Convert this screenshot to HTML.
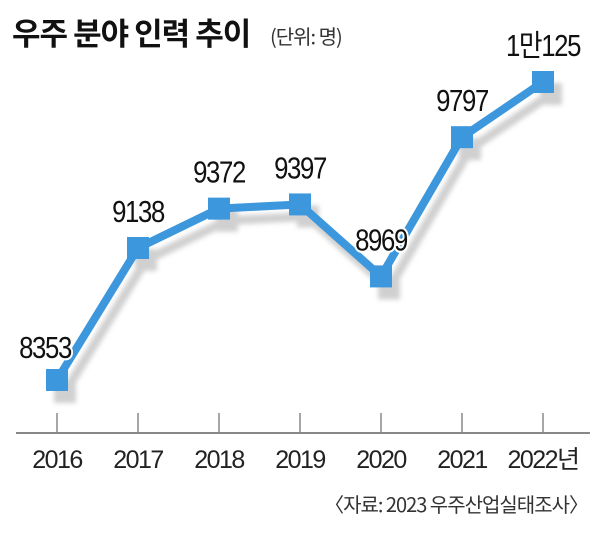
<!DOCTYPE html>
<html><head><meta charset="utf-8"><style>
body{margin:0;background:#fff;width:600px;height:533px;overflow:hidden}
svg{display:block;font-family:"Liberation Sans","Noto Sans CJK KR",sans-serif}
</style></head><body>
<svg id="chart" width="600" height="533" viewBox="0 0 600 533">
<defs><filter id="blur" x="-20%" y="-20%" width="140%" height="140%"><feGaussianBlur stdDeviation="2.5"/></filter></defs>
<text x="12" y="45" font-size="31" font-weight="bold" fill="#111" font-family="'Noto Sans CJK KR',sans-serif" letter-spacing="-1">우주 분야 인력 추이</text>
<text x="270" y="44" font-size="20" fill="#333" font-family="'Noto Sans CJK KR',sans-serif" letter-spacing="-1">(단위: 명)</text>
<line x1="16" y1="433" x2="590" y2="433" stroke="#888" stroke-width="2"/>
<g id="ticks"></g>
<g id="shadow" filter="url(#blur)"></g>
<g id="series"></g>
<g id="labels"></g>
<text x="588" y="512" text-anchor="end" font-size="20" fill="#333" font-family="'Noto Sans CJK KR',sans-serif" letter-spacing="-1">〈자료: 2023 우주산업실태조사〉</text>
</svg>
<script>
const years=["2016","2017","2018","2019","2020","2021","2022"];
const values=[8353,9138,9372,9397,8969,9797,10125];
const valueLabels=["8353","9138","9372","9397","8969","9797","1만125"];
const NS="http://www.w3.org/2000/svg";
const x=i=>57+i*81;
const y=v=>380-(v-8353)*(298/1772);
const mk=(t,a,p)=>{const e=document.createElementNS(NS,t);for(const k in a)e.setAttribute(k,a[k]);p.appendChild(e);return e;};
const ticks=document.getElementById('ticks'),sh=document.getElementById('shadow'),se=document.getElementById('series'),lb=document.getElementById('labels');
years.forEach((yr,i)=>{
 const t=mk('line',{x1:x(i),y1:413,x2:x(i),y2:433,stroke:'#888','stroke-width':1.5},ticks);
 
 
 const l=mk('text',{x:x(i),y:468,'text-anchor':'middle','font-size':25,fill:'#222','letter-spacing':'-1.5'},ticks);
 l.textContent=yr+(i===years.length-1?'년':'');
 
 
});
const pts=values.map((v,i)=>x(i)+','+y(v)).join(' ');
const spts=values.map((v,i)=>(x(i)+8)+','+(y(v)+12)).join(' ');
const shl=mk('polyline',{points:spts,fill:'none',stroke:'#d0d0d0','stroke-width':9,'stroke-linejoin':'round'},sh);


values.forEach((v,i)=>{const r=mk('rect',{x:x(i)+8-11,y:y(v)+12-11,width:22,height:22,fill:'#d0d0d0'},sh);
 
 });
const ln=mk('polyline',{points:pts,fill:'none',stroke:'#3d97dd','stroke-width':8,'stroke-linejoin':'miter'},se);


values.forEach((v,i)=>{
 const r=mk('rect',{x:x(i)-11,y:y(v)-11,width:22,height:22,fill:'#3d97dd'},se);
 
 
 const lx=x(i)-(i===0?12:0), ly=y(v)-(i===0?22:26);
 const t=mk('text',{x:0,y:0,transform:'translate('+lx+','+ly+') scale(0.92,1.08)','text-anchor':'middle','font-size':28,fill:'#111',stroke:'#fff','stroke-width':4,'paint-order':'stroke','letter-spacing':'-1.5'},lb);
 t.textContent=valueLabels[i];
 
 
});
</script>
</body></html>
